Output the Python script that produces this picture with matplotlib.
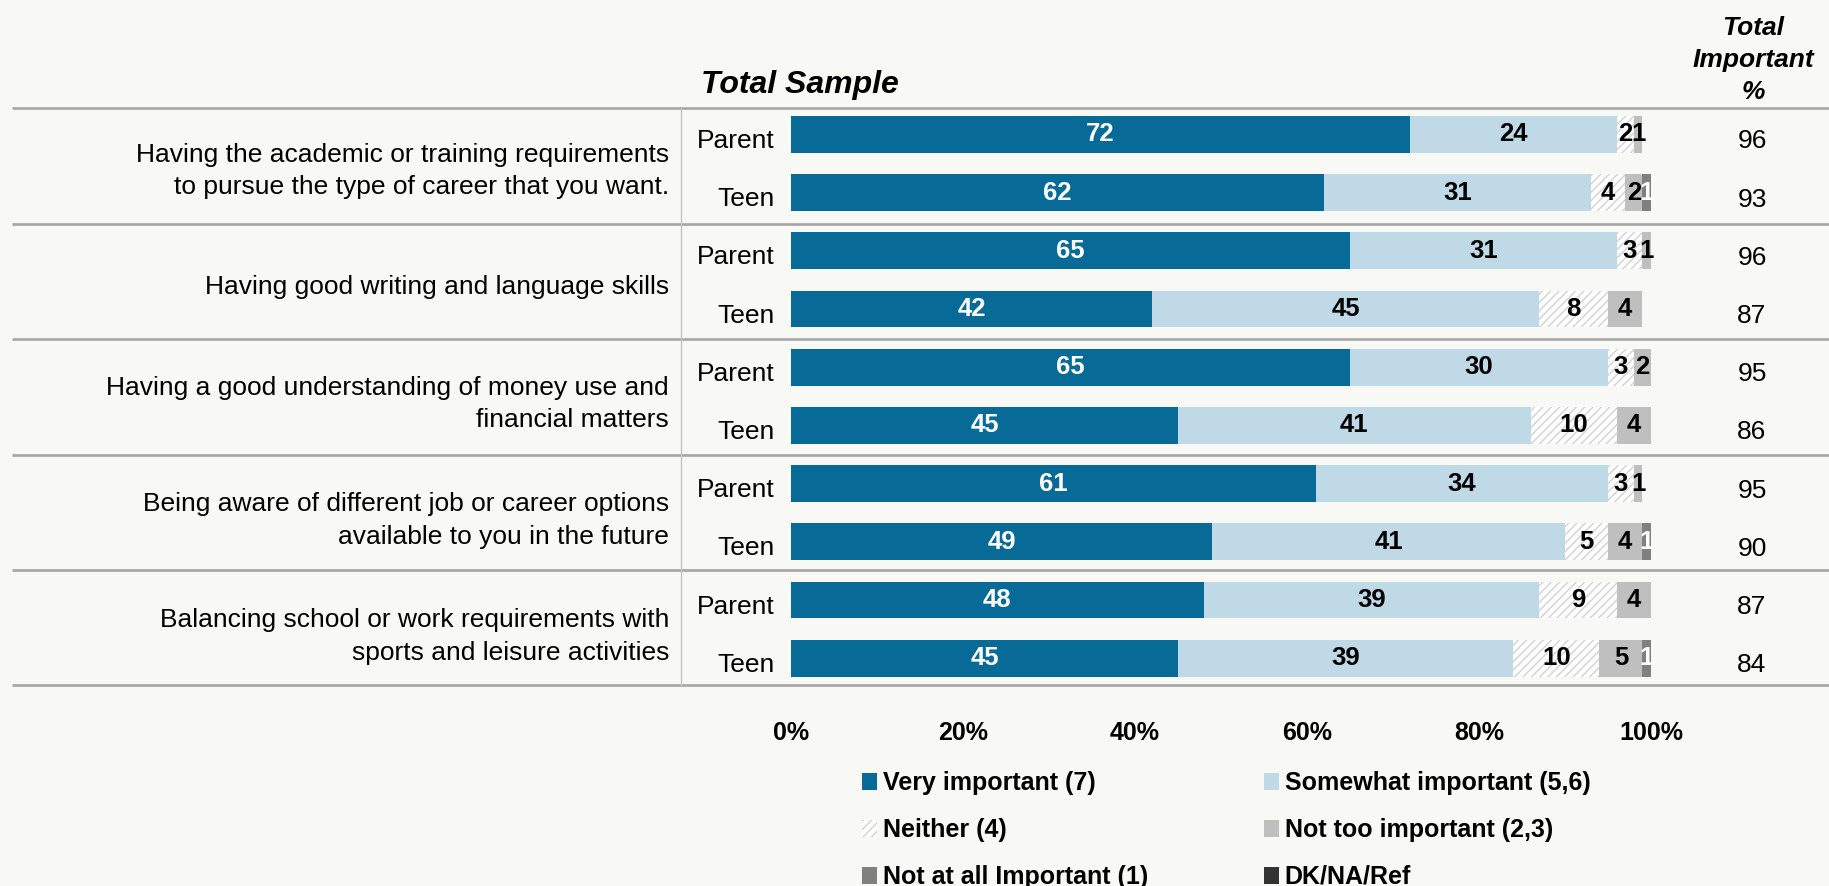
import matplotlib
matplotlib.use("Agg")
import matplotlib.pyplot as plt
import matplotlib.transforms as mtransforms
import numpy as np

plt.rcParams['font.family'] = ['Liberation Sans', 'DejaVu Sans']
plt.rcParams['hatch.linewidth'] = 1.0

# ---------------- data ----------------
categories = [
    "Having the academic or training requirements\nto pursue the type of career that you want.",
    "Having good writing and language skills",
    "Having a good understanding of money use and\nfinancial matters",
    "Being aware of different job or career options\navailable to you in the future",
    "Balancing school or work requirements with\nsports and leisure activities",
]
respondents = ["Parent", "Teen"]
series_names = ["Very important (7)", "Somewhat important (5,6)", "Neither (4)",
                "Not too important (2,3)", "Not at all Important (1)", "DK/NA/Ref"]
very_important = [72, 62, 65, 42, 65, 45, 61, 49, 48, 45]
somewhat_important = [24, 31, 31, 45, 30, 41, 34, 41, 39, 39]
neither = [2, 4, 3, 8, 3, 10, 3, 5, 9, 10]
not_too_important = [1, 2, 1, 4, 2, 4, 1, 4, 4, 5]
not_at_all_important = [0, 1, 0, 0, 0, 0, 0, 1, 0, 1]
dk_na_ref = [0, 0, 0, 0, 0, 0, 0, 0, 0, 0]
total_important = [96, 93, 96, 87, 95, 86, 95, 90, 87, 84]
x_ticks = [0, 20, 40, 60, 80, 100]
x_tick_labels = ["0%", "20%", "40%", "60%", "80%", "100%"]

# ---------------- styling ----------------
BG = '#f8f8f4'
face_colors = ['#086b97', '#bfd9e6', 'white', '#bfbfbf', '#808080', '#333333']
edge_colors = ['none', 'none', '#d2d2d2', 'none', 'none', 'none']
hatches = [None, None, '////', None, None, None]
text_colors = ['white', 'black', 'black', 'black', 'white', 'white']

W, H = 1829, 886
fig = plt.figure(figsize=(W / 100, H / 100), dpi=100, facecolor=BG)

def fx(px):
    return px / W

def fy(py):
    return 1 - py / H

ax_left, ax_right, ax_top, ax_bot = 791, 1651, 108, 685
ax = fig.add_axes([fx(ax_left), fy(ax_bot), (ax_right - ax_left) / W, (ax_bot - ax_top) / H])
ax.set_facecolor('none')

row_pitch = 58.2
first_center = 134.4
ylim_top = (ax_top - first_center) / row_pitch
ylim_bot = (ax_bot - first_center) / row_pitch

series = [very_important, somewhat_important, neither, not_too_important,
          not_at_all_important, dk_na_ref]
n_rows = len(very_important)
ypos = np.arange(n_rows)
left = np.zeros(n_rows)
containers = []
for vals, name, fc, ec, hat, tc in zip(series, series_names, face_colors, edge_colors, hatches, text_colors):
    vals = np.array(vals, dtype=float)
    bc = ax.bar(left, height=0.63, width=vals, bottom=ypos - 0.315, align='edge',
                color=fc, edgecolor=ec, hatch=hat, linewidth=0, label=name)
    containers.append(bc)
    for i, v in enumerate(vals):
        if v > 0:
            ax.text(left[i] + v / 2, ypos[i], f"{int(v)}", ha='center', va='center',
                    fontsize=18.5, fontweight='bold', color=tc)
    left += vals

ax.set_xlim(0, 100)
ax.set_ylim(ylim_bot, ylim_top)
for s in ax.spines.values():
    s.set_visible(False)

ax.set_xticks(x_ticks)
ax.set_xticklabels(x_tick_labels, fontsize=18, fontweight='bold')
ax.tick_params(axis='x', length=0, pad=26)
ax.set_yticks(ypos)
ax.set_yticklabels(respondents * len(categories), fontsize=19)
ax.tick_params(axis='y', length=0, pad=12)
down = mtransforms.ScaledTranslation(0, -3 / 72, fig.dpi_scale_trans)
for lab in ax.get_yticklabels():
    lab.set_transform(lab.get_transform() + down)

# separators
ytr = ax.get_yaxis_transform()
x_of = lambda px: (px - ax_left) / (ax_right - ax_left)
boundaries_px = [108, 224, 339, 455, 570, 685]
for bp in boundaries_px:
    yb = (bp - first_center) / row_pitch
    ax.plot([x_of(12), x_of(W)], [yb, yb], transform=ytr, color='#a6a6a6', lw=1.9,
            clip_on=False, solid_capstyle='butt')
ax.plot([x_of(681), x_of(681)], [ylim_top, ylim_bot], transform=ytr, color='#c4c4c4',
        lw=1.0, clip_on=False)

# category labels
for g, cat in enumerate(categories):
    yc = 2 * g + 0.5 + 0.13
    ax.text(x_of(669), yc, cat, transform=ytr, ha='right', va='center', fontsize=19,
            linespacing=1.45)

# total important column
for i, v in enumerate(total_important):
    ax.text(x_of(1752), ypos[i] + 0.12, f"{v}", transform=ytr, ha='center',
            va='center', fontsize=19)

# headers
fig.text(fx(800), fy(93), "Total Sample", ha='center', va='baseline', fontsize=23,
         fontweight='bold', fontstyle='italic')
for txt, base in zip(["Total", "Important", "%"], [35, 67, 99]):
    fig.text(fx(1753), fy(base), txt, ha='center', va='baseline', fontsize=19,
             fontweight='bold', fontstyle='italic')

# legend
order = [0, 2, 4, 1, 3, 5]
leg = fig.legend([containers[k] for k in order], [series_names[k] for k in order],
                 loc='upper left', bbox_to_anchor=(fx(862), fy(771)), ncol=2,
                 frameon=False, prop={'weight': 'bold', 'size': 18},
                 handlelength=0.6, handleheight=0.65, handletextpad=0.25,
                 columnspacing=4.6, labelspacing=0.92, borderpad=0, borderaxespad=0)

fig.savefig('out.png', dpi=100, facecolor=BG)
